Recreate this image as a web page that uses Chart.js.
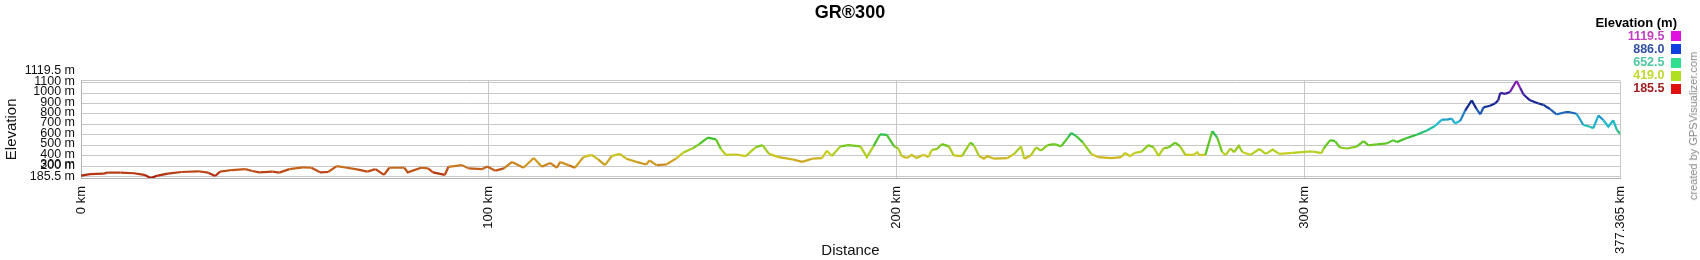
<!DOCTYPE html>
<html lang="en">
<head>
  <meta charset="UTF-8">
  <title>GR®300</title>
  <script src="https://cdn.jsdelivr.net/npm/chart.js"></script>
  <style>
    body {
      margin: 0;
      background: #fff;
      font-family: "Liberation Sans", Arial, sans-serif;
    }

    #wrap {
      position: relative;
      width: 1700px;
      height: 260px;
    }

    #legend {
      position: absolute;
      right: 19px;
      top: 15.7px;
      text-align: right;
    }

    #legend .head {
      font-weight: bold;
      font-size: 13px;
      line-height: 14px;
      margin-right: 4px;
    }

    #legend .row {
      display: flex;
      justify-content: flex-end;
      align-items: center;
      font-weight: bold;
      font-size: 12.5px;
      height: 13.2px;
      line-height: 13.2px;
    }

    #legend .sq {
      width: 10.5px;
      height: 10px;
      margin-left: 6px;
    }

    #credit {
      position: absolute;
      left: 1693px;
      top: 126px;
      transform: translate(-50%, -50%) rotate(-90deg);
      white-space: nowrap;
      font-size: 11px;
      color: #888;
    }
  </style>
</head>
<body>
  <div id="wrap">
    <canvas id="profile" width="1700" height="260"></canvas>
    <div id="legend"></div>
    <div id="credit">created by GPSVisualizer.com</div>
  </div>

  <script>
    // distance along the route (km) and elevation (m)
    const distKm = [
      0, 2.2, 5.6, 6.4, 9.7, 13.0, 15.5, 17.1, 18.8, 21.3, 24.6, 28.7, 31.2, 32.9, 34.1,
      37.0, 40.3, 42.0, 43.7, 47.0, 48.6, 51.1, 54.4, 56.5, 58.6, 60.6, 62.7, 65.2, 67.7,
      70.2, 72.2, 74.3, 75.6, 79.3, 80.1, 83.4, 85.1, 86.3, 89.2, 90.1, 93.4, 95.0, 98.3,
      99.6, 101.6, 103.7, 105.7, 108.5, 111.0, 113.0, 115.0, 116.7, 117.5, 119.5, 121.1,
      123.2, 125.2, 126.8, 128.5, 130.1, 132.1, 133.7, 136.2, 138.6, 139.4, 141.1, 143.5,
      145.9, 147.6, 150.0, 151.6, 153.7, 155.7, 156.9, 158.1, 160.6, 163.0, 165.4, 167.1,
      168.7, 171.1, 174.4, 176.8, 179.3, 181.7, 182.9, 184.1, 186.2, 188.2, 191.1, 192.7,
      194.3, 195.9, 197.6, 199.4, 200.4, 201.2, 202.5, 203.7, 204.9, 206.6, 207.8, 208.6,
      209.9, 211.1, 212.8, 214.0, 216.0, 218.1, 218.9, 220.2, 221.4, 222.2, 223.9, 227.2,
      228.8, 230.5, 231.3, 232.9, 234.2, 235.4, 237.0, 238.7, 240.3, 242.0, 242.8, 244.0,
      245.7, 247.7, 249.4, 252.7, 255.1, 256.0, 257.2, 258.4, 260.1, 261.7, 263.0, 264.2,
      265.4, 266.7, 268.3, 269.5, 270.8, 272.8, 273.7, 274.1, 275.7, 277.4, 278.6, 279.8,
      280.7, 281.9, 282.7, 283.9, 284.8, 286.8, 288.9, 290.5, 292.2, 293.8, 297.1, 300.8,
      302.2, 304.2, 304.7, 306.3, 307.5, 308.7, 310.4, 312.8, 314.5, 315.7, 317.7, 320.2,
      321.8, 322.6, 325.1, 327.5, 330.0, 332.0, 333.7, 334.9, 336.1, 336.9, 338.2, 339.4,
      341.0, 342.2, 343.1, 343.9, 345.5, 346.7, 347.5, 348.0, 349.2, 350.4, 352.0, 352.9,
      353.7, 355.3, 357.4, 358.6, 360.2, 361.8, 363.9, 365.1, 366.7, 368.4, 370.0, 370.8,
      372.1, 373.3, 374.5, 375.7, 376.6, 377.365
    ];
    const elevM = [
      209, 222, 228, 237, 237, 231, 216, 185.5, 209, 228, 243, 250, 237, 205, 247,
      262, 271, 253, 240, 247, 237, 271, 287, 284, 240, 243, 299, 284, 268,
      247, 271, 215, 284, 284, 240, 284, 278, 240, 215, 293, 309, 278, 270,
      295, 256, 278, 340, 284, 377, 293, 330, 284, 340, 309, 284,
      386, 408, 365, 309, 396, 417, 371, 340, 315, 355, 309, 315,
      371, 427, 470, 511, 573, 557, 464, 408, 411, 396, 480, 501,
      417, 386, 365, 340, 371, 377, 448, 396, 489, 501, 489, 386,
      489, 604, 600, 488, 470, 396, 377, 408, 377, 408, 386, 455,
      464, 511, 489, 402, 396, 526, 501, 396, 371, 396, 371, 377,
      417, 489, 371, 402, 480, 448, 501, 511, 489, 573, 619, 588,
      526, 417, 386, 377, 386, 427, 396, 427, 439, 501, 480, 396,
      470, 480, 526, 489, 408, 408, 433, 408, 408, 635, 573, 433,
      408, 470, 433, 495, 433, 408, 464, 417, 458, 417, 427, 439,
      438, 425, 469, 549, 540, 478, 469, 487, 540, 499, 509, 518,
      549, 530, 570, 601, 641, 685, 746, 746, 756, 709, 734, 833,
      931, 848, 796, 864, 879, 901, 931, 1002, 993, 1012, 1119.5, 1049,
      987, 931, 901, 888, 848, 796, 817, 817, 802, 694, 678, 663,
      786, 740, 678, 740, 648, 610
    ];

    const xTicks = [0, 100, 200, 300, 377.365];
    const yTicks = [185.5, 200, 300, 400, 500, 600, 700, 800, 900, 1000, 1100, 1119.5];

    const legendValues = ["1119.5", "886.0", "652.5", "419.0", "185.5"];
    const legendSquares = ["#e010e0", "#1040e0", "#30e090", "#b0e020", "#e01010"];
    const legendText = ["#c040c0", "#3050a0", "#50c8a0", "#c0d830", "#a02020"];

    // colour ramp of the line, by elevation
    const ramp = [
      [185.5, "#a8180c"], [260, "#bf5018"], [330, "#d09820"], [419, "#c8d020"],
      [500, "#70c820"], [580, "#30c030"], [652.5, "#20c0a0"], [720, "#20b8d0"],
      [800, "#2070c0"], [886, "#102890"], [1000, "#3a1c9c"], [1119.5, "#b020c0"]
    ];

    const hexToRgb = (h) => [1, 3, 5].map(i => parseInt(h.substr(i, 2), 16));

    const colorFor = (v) => {
      if (v <= ramp[0][0]) return ramp[0][1];
      for (let i = 1; i < ramp.length; i++) {
        if (v <= ramp[i][0]) {
          const t = (v - ramp[i - 1][0]) / (ramp[i][0] - ramp[i - 1][0]);
          const a = hexToRgb(ramp[i - 1][1]);
          const b = hexToRgb(ramp[i][1]);
          const c = a.map((x, k) => Math.round(x + (b[k] - x) * t));
          return `rgb(${c[0]},${c[1]},${c[2]})`;
        }
      }
      return ramp[ramp.length - 1][1];
    };

    // legend on the right
    const legend = document.getElementById("legend");
    legend.innerHTML = '<div class="head">Elevation (m)</div>' + legendValues.map((v, i) =>
      `<div class="row"><span style="color:${legendText[i]}">${v}</span>` +
      `<span class="sq" style="background:${legendSquares[i]}"></span></div>`).join("");

    // y tick labels, drawn by hand so the crowded end labels can be nudged apart
    const yLabels = {
      id: "yLabels",
      afterDraw(chart) {
        const s = chart.scales.y;
        const ctx = chart.ctx;
        const pos = yTicks.map(v => s.getPixelForValue(v) - 1.5);
        const gap = 10.5;
        const n = pos.length;
        if (pos[n - 2] - pos[n - 1] < gap) pos[n - 1] = pos[n - 2] - gap;
        if (pos[0] - pos[1] < gap) pos[1] = pos[0] - gap;
        ctx.save();
        ctx.font = '12.5px "Liberation Sans", Arial, sans-serif';
        ctx.fillStyle = "#111";
        ctx.textAlign = "right";
        ctx.textBaseline = "middle";
        yTicks.forEach((v, i) => ctx.fillText(v + " m", 75, pos[i]));
        ctx.restore();
      }
    };

    Chart.defaults.font.family = '"Liberation Sans", Arial, sans-serif';

    new Chart(document.getElementById("profile"), {
      type: "line",
      data: {
        datasets: [{
          data: distKm.map((d, i) => ({ x: d, y: elevM[i] })),
          borderWidth: 2.2,
          pointRadius: 0,
          tension: 0,
          fill: false,
          segment: {
            borderColor: (c) => colorFor((c.p0.parsed.y + c.p1.parsed.y) / 2)
          }
        }]
      },
      options: {
        responsive: false,
        animation: false,
        layout: { padding: 0 },
        plugins: {
          legend: { display: false },
          tooltip: { enabled: false },
          title: {
            display: true,
            text: "GR®300",
            color: "#000",
            font: { size: 18, weight: "bold" },
            padding: { top: 2, bottom: 57.1 }
          }
        },
        scales: {
          x: {
            type: "linear",
            min: 0,
            max: 377.365,
            afterBuildTicks: (axis) => { axis.ticks = xTicks.map(v => ({ value: v })); },
            afterFit: (axis) => { axis.height = 82; },
            grid: { color: "#c8c8c8", drawTicks: false },
            border: { color: "#b4b4b4" },
            ticks: {
              autoSkip: false,
              minRotation: 90,
              maxRotation: 90,
              padding: 8,
              color: "#111",
              font: { size: 13 },
              callback: (v) => v + " km"
            },
            title: {
              display: true,
              text: "Distance",
              color: "#111",
              font: { size: 15 },
              padding: 0
            }
          },
          y: {
            min: 185.5,
            max: 1119.5,
            afterBuildTicks: (axis) => { axis.ticks = yTicks.map(v => ({ value: v })); },
            afterFit: (axis) => { axis.width = 81; },
            grid: { color: "#c8c8c8", drawTicks: false },
            border: { color: "#b4b4b4" },
            ticks: { display: false },
            title: {
              display: true,
              text: "Elevation",
              color: "#111",
              font: { size: 15 },
              padding: { top: 3, bottom: 0 }
            }
          },
          // empty strip on the right that holds the legend column
          side: {
            position: "right",
            min: 0,
            max: 1,
            afterFit: (axis) => { axis.width = 80; },
            grid: { display: false },
            border: { display: false },
            ticks: { display: false }
          }
        }
      },
      plugins: [yLabels]
    });
  </script>
</body>
</html>
